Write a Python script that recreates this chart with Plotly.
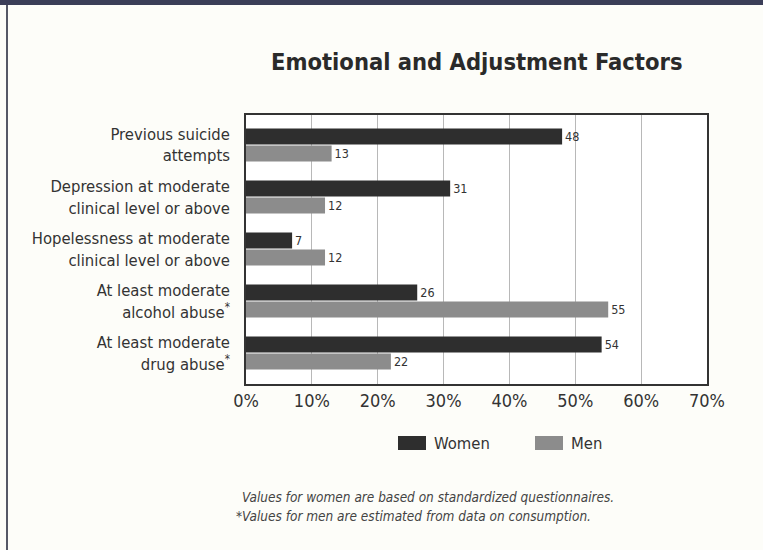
import plotly.graph_objects as go

categories = [
    "Previous suicide<br>attempts",
    "Depression at moderate<br>clinical level or above",
    "Hopelessness at moderate<br>clinical level or above",
    "At least moderate<br>alcohol abuse<sup>*</sup>",
    "At least moderate<br>drug abuse<sup>*</sup>",
]
women = [48, 31, 7, 26, 54]
men = [13, 12, 12, 55, 22]
tick_vals = [0, 10, 20, 30, 40, 50, 60, 70]
tick_text = ["0%", "10%", "20%", "30%", "40%", "50%", "60%", "70%"]

FONT = "DejaVu Sans Condensed, Liberation Sans Narrow, Roboto, sans-serif"
W_COL = "#2e2e2e"
M_COL = "#8c8c8c"

fig = go.Figure()
fig.add_trace(go.Bar(y=categories, x=women, orientation="h", name="Women",
                     marker=dict(color=W_COL, line=dict(width=0)),
                     text=[str(v) for v in women], textposition="outside",
                     textfont=dict(size=12.5, color="#333333", family=FONT),
                     cliponaxis=False))
fig.add_trace(go.Bar(y=categories, x=men, orientation="h", name="Men",
                     marker=dict(color=M_COL, line=dict(width=0)),
                     text=[str(v) for v in men], textposition="outside",
                     textfont=dict(size=12.5, color="#333333", family=FONT),
                     cliponaxis=False))

L, R, T, B = 246, 707, 115, 384
def px(p):
    return (p - L) / (R - L)
def py(p):
    return (B - p) / (B - T)

shapes = [
    dict(type="rect", xref="paper", yref="paper", x0=px(-5), x1=px(770), y0=py(5), y1=py(-5),
         fillcolor="#3b3e58", line=dict(width=0), layer="below"),
    dict(type="line", xref="paper", yref="paper", x0=px(7), x1=px(7), y0=py(5), y1=py(560),
         line=dict(color="#555866", width=2)),
    dict(type="rect", xref="paper", yref="paper", x0=px(398), x1=px(426), y0=py(450), y1=py(436),
         fillcolor=W_COL, line=dict(width=0)),
    dict(type="rect", xref="paper", yref="paper", x0=px(535), x1=px(563), y0=py(450), y1=py(436),
         fillcolor=M_COL, line=dict(width=0)),
]

annotations = [
    dict(text="<b>Emotional and Adjustment Factors</b>", xref="paper", yref="paper",
         x=px(477), y=py(62), xanchor="center", yanchor="middle", showarrow=False,
         font=dict(size=23.5, color="#2a2a2a", family=FONT)),
    dict(text="Women", xref="paper", yref="paper", x=px(432), y=py(443), xanchor="left",
         yanchor="middle", showarrow=False, font=dict(size=16.5, color="#333333", family=FONT)),
    dict(text="Men", xref="paper", yref="paper", x=px(569), y=py(443), xanchor="left",
         yanchor="middle", showarrow=False, font=dict(size=16.5, color="#333333", family=FONT)),
    dict(text="<i>Values for women are based on standardized questionnaires.</i>", xref="paper",
         yref="paper", x=px(240), y=py(497), xanchor="left", yanchor="middle", showarrow=False,
         font=dict(size=13.5, color="#444444", family=FONT)),
    dict(text="<i>*Values for men are estimated from data on consumption.</i>", xref="paper",
         yref="paper", x=px(234), y=py(516), xanchor="left", yanchor="middle", showarrow=False,
         font=dict(size=13.5, color="#444444", family=FONT)),
]

fig.update_layout(
    width=763, height=550,
    margin=dict(l=L, r=763 - R, t=T, b=550 - B, pad=0),
    paper_bgcolor="#fdfdf9", plot_bgcolor="#ffffff",
    barmode="group", bargap=0.346, bargroupgap=0.058,
    showlegend=False,
    font=dict(family=FONT, color="#333333"),
    shapes=shapes, annotations=annotations,
)
fig.update_xaxes(range=[0, 70], tickvals=tick_vals, ticktext=tick_text,
                 showgrid=True, gridcolor="#b8b8b8", gridwidth=1,
                 showline=True, linecolor="#333333", linewidth=1.5, mirror=True,
                 ticks="", tickfont=dict(size=18, color="#333333", family=FONT),
                 zeroline=False, fixedrange=True)
fig.update_yaxes(range=[4.596, -0.577], autorange=False, showline=True, linecolor="#333333",
                 linewidth=1.5, mirror=True, ticks="", ticklabelstandoff=11,
                 tickfont=dict(size=16.5, color="#333333", family=FONT), fixedrange=True)

fig.write_html("out.html")
